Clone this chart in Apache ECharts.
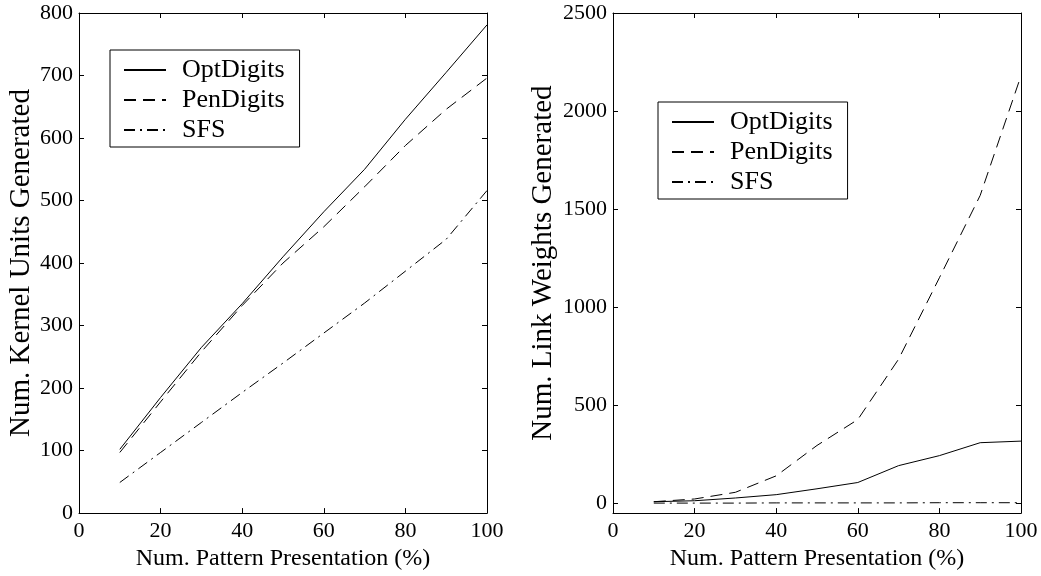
<!DOCTYPE html>
<html>
<head>
<meta charset="utf-8">
<script src="https://cdn.jsdelivr.net/npm/echarts@6/dist/echarts.min.js"></script>
<style>
  html, body { margin: 0; padding: 0; background: #fff; }
  #chart { width: 1041px; height: 576px; }
</style>
</head>
<body>
<div id="chart"></div>
<script>
    // pattern presentation (%)
    const presentation = [10, 20, 30, 40, 50, 60, 70, 80, 90, 100];
    const names = ['OptDigits', 'PenDigits', 'SFS'];

    // left: kernel units generated
    const kernelOpt = [102, 185, 265, 335, 410, 482, 550, 630, 705, 781];
    const kernelPen = [97, 178, 258, 332, 400, 458, 522, 588, 646, 696];
    const kernelSfs = [49, 97, 145, 193, 240, 288, 336, 387, 438, 516];

    // right: link weights generated
    const linkOpt = [8, 13, 27, 44, 74, 106, 192, 243, 309, 317];
    const linkPen = [8, 22, 56, 140, 295, 427, 735, 1150, 1570, 2180];
    const linkSfs = [1, 1, 1, 2, 2, 2, 2, 3, 3, 3];

    const linkTicks = [0, 500, 1000, 1500, 2000, 2500];

    const font = 'Liberation Serif';
    const dashes = { OptDigits: 'solid', PenDigits: [12, 7], SFS: [11, 5, 2, 5] };

    const pairs = (xs, ys) => xs.map((x, i) => [x, ys[i]]);

    let chartInstance = echarts.init(document.getElementById('chart'));

    // 每个轴都要 onZero:false，否则顶部/右侧的轴线会跑到 0 的位置
    const axisLine = () => ({ show: true, onZero: false, lineStyle: { color: '#000', width: 1 } });
    const tick = (extra) => Object.assign({ show: true, inside: true, length: 5, lineStyle: { color: '#000' } }, extra || {});
    const label = (extra) => Object.assign({ fontFamily: font, fontSize: 22, color: '#000', formatter: v => String(v) }, extra || {});
    const titleStyle = { fontFamily: font, fontSize: 29, color: '#000' };

    function xAxes(grid) {
        return [
            {
                gridIndex: grid, type: 'value', min: 0, max: 100, interval: 20,
                name: 'Num. Pattern Presentation (%)', nameLocation: 'middle', nameGap: 31,
                nameTextStyle: { fontFamily: font, fontSize: 24, color: '#000' },
                axisLine: axisLine(), axisTick: tick(), splitLine: { show: false },
                axisLabel: label({ margin: 7 })
            },
            {
                gridIndex: grid, type: 'value', position: 'top', min: 0, max: 100, interval: 20,
                axisLine: axisLine(), axisTick: tick(), splitLine: { show: false },
                axisLabel: { show: false }
            }
        ];
    }

    const legendBox = (left, top) => ({
        data: names, orient: 'vertical', left: left, top: top,
        borderColor: '#000', borderWidth: 1, padding: [7, 15, 4, 13],
        itemWidth: 42, itemHeight: 10, itemGap: 4,
        itemStyle: { opacity: 0 },
        textStyle: { fontFamily: font, fontSize: 26, lineHeight: 26, color: '#000', padding: [0, 0, 0, 11] }
    });

    const option = {
        animation: false,
        backgroundColor: '#fff',
        grid: [
            { left: 79, top: 13, width: 408, height: 504 },
            { left: 613, top: 13, width: 408, height: 504 }
        ],
        legend: [legendBox(110, 50), legendBox(658, 102)],
        xAxis: xAxes(0).concat(xAxes(1)),
        yAxis: [
            {
                gridIndex: 0, type: 'value', min: 0, max: 800, interval: 100,
                name: 'Num. Kernel Units Generated', nameLocation: 'middle', nameGap: 43,
                nameTextStyle: titleStyle,
                axisLine: axisLine(), axisTick: tick(), splitLine: { show: false },
                axisLabel: label({ margin: 6 })
            },
            {
                gridIndex: 0, type: 'value', position: 'right', min: 0, max: 800, interval: 100,
                axisLine: axisLine(), axisTick: tick(), splitLine: { show: false },
                axisLabel: { show: false }
            },
            {
                gridIndex: 1, type: 'value', min: -50, max: 2500,
                name: 'Num. Link Weights Generated', nameLocation: 'middle', nameGap: 55,
                nameTextStyle: titleStyle,
                axisLine: axisLine(),
                axisTick: tick({ customValues: linkTicks }),
                splitLine: { show: false },
                axisLabel: label({ margin: 6, customValues: linkTicks })
            },
            {
                gridIndex: 1, type: 'value', position: 'right', min: -50, max: 2500,
                axisLine: axisLine(),
                axisTick: tick({ customValues: linkTicks }),
                splitLine: { show: false },
                axisLabel: { show: false }
            }
        ],
        series: []
    };

    const leftData = { OptDigits: kernelOpt, PenDigits: kernelPen, SFS: kernelSfs };
    const rightData = { OptDigits: linkOpt, PenDigits: linkPen, SFS: linkSfs };

    names.forEach(n => {
        option.series.push({
            name: n, type: 'line', xAxisIndex: 0, yAxisIndex: 0, symbol: 'none',
            data: pairs(presentation, leftData[n]),
            itemStyle: { color: '#000' },
            lineStyle: { color: '#000', width: 1, type: dashes[n] }
        });
    });
    names.forEach(n => {
        option.series.push({
            name: n, type: 'line', xAxisIndex: 2, yAxisIndex: 2, symbol: 'none',
            data: pairs(presentation, rightData[n]),
            itemStyle: { color: '#000' },
            lineStyle: { color: '#000', width: 1, type: dashes[n] }
        });
    });

    chartInstance.setOption(option);
</script>
</body>
</html>
